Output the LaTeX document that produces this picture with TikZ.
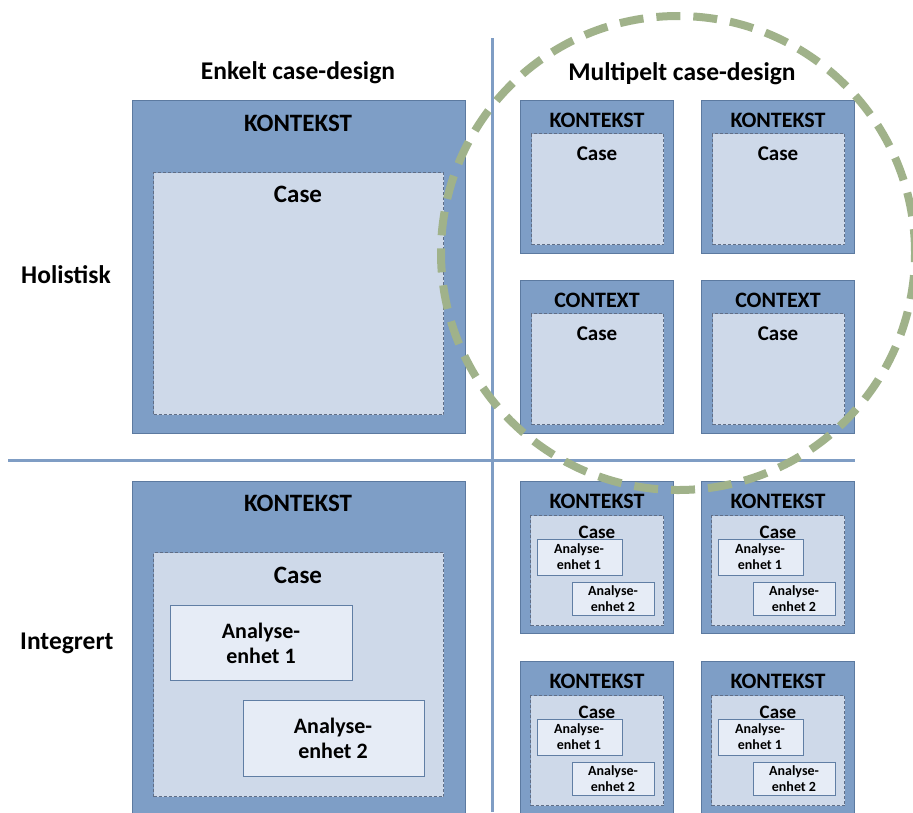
\documentclass[tikz,border=0pt]{standalone}
\usepackage{fontspec}
\setmainfont{Carlito}
\definecolor{ctxfill}{RGB}{126,158,198}
\definecolor{ctxline}{RGB}{92,122,160}
\definecolor{casefill}{RGB}{206,217,233}
\definecolor{caseline}{RGB}{96,110,134}
\definecolor{unitfill}{RGB}{230,236,246}
\definecolor{unitline}{RGB}{96,126,164}
\definecolor{gridline}{RGB}{127,157,196}
\definecolor{ringcol}{RGB}{160,178,138}
\begin{document}
\begin{tikzpicture}[x=1pt,y=-1pt,
  ctx/.style={draw=ctxline, fill=ctxfill, line width=1pt, inner sep=0pt, anchor=north west},
  casebox/.style={draw=caseline, fill=casefill, line width=1pt, dash pattern=on 3pt off 2pt, inner sep=0pt, anchor=north west},
  unit/.style={draw=unitline, fill=unitfill, line width=1pt, inner sep=0pt, anchor=north west},
  title/.style={font=\bfseries\fontsize{25.5}{30}\selectfont, inner sep=0pt},
  bighd/.style={font=\bfseries\fontsize{25}{30}\selectfont, inner sep=0pt},
  smallhd/.style={font=\bfseries\fontsize{22}{26}\selectfont, inner sep=0pt},
  bigunit/.style={font=\bfseries\fontsize{22}{25}\selectfont, align=center, inner sep=0pt},
  smallunit/.style={font=\bfseries\fontsize{14}{16}\selectfont, align=center, inner sep=0pt},
  smallcase/.style={font=\bfseries\fontsize{19}{22}\selectfont, inner sep=0pt},
  holcase/.style={font=\bfseries\fontsize{21}{24}\selectfont, inner sep=0pt},
]
\useasboundingbox (0,0) rectangle (913,812);
\clip (0,0) rectangle (913,812);

% dividing lines of the 2x2 grid
\coordinate (vtop) at (492,38);
\coordinate (vbot) at (492,812);
\coordinate (hl) at (8,460);
\coordinate (hr) at (855,460);
\draw[gridline, line width=3pt] (vtop) -- (vbot);
\draw[gridline, line width=3pt] (hl) -- (hr);

% column and row headings
\node[title] (colA) at (298,73) {Enkelt case-design};
\node[title] (colB) at (682,74) {Multipelt case-design};
\node[title, anchor=west] (rowA) at (21,275) {Holistisk};
\node[title, anchor=west] (rowB) at (20,643) {Integrert};

% single holistic case
\node[ctx, minimum width=333pt, minimum height=333pt] (k1) at (132,100) {};
\node[bighd] (k1t) at (298,123) {KONTEKST};
\node[casebox, minimum width=290pt, minimum height=242pt] (c1) at (153,172) {};
\node[bighd] (c1t) at (298,194) {Case};

% single embedded case
\node[ctx, minimum width=333pt, minimum height=345pt] (k2) at (132,481) {};
\node[bighd] (k2t) at (298,503) {KONTEKST};
\node[casebox, minimum width=290pt, minimum height=244pt] (c2) at (153,552) {};
\node[bighd] (c2t) at (298,575) {Case};
\node[unit, minimum width=182pt, minimum height=75pt] (u21) at (170,605) {};
\node[bigunit] (u21t) at (261,643) {Analyse-\\enhet 1};
\node[unit, minimum width=181pt, minimum height=76pt] (u22) at (243,700) {};
\node[bigunit] (u22t) at (333,738) {Analyse-\\enhet 2};

% multiple holistic cases
\foreach \x/\y/\lab/\n in {520/100/KONTEKST/a, 701/100/KONTEKST/b, 520/280/CONTEXT/c, 701/280/CONTEXT/d}{
  \node[ctx, minimum width=153pt, minimum height=153pt] (h\n) at (\x,\y) {};
  \node[smallhd] (h\n t) at (\x+77,\y+20) {\lab};
  \node[casebox, minimum width=132pt, minimum height=111pt] (hc\n) at (\x+11,\y+33) {};
  \node[holcase] (hc\n t) at (\x+77,\y+54) {Case};
}

% multiple embedded cases
\foreach \x/\y/\n in {520/481/a, 701/481/b, 520/661/c, 701/661/d}{
  \node[ctx, minimum width=153pt, minimum height=152pt] (e\n) at (\x,\y) {};
  \node[smallhd] (e\n t) at (\x+77,\y+20) {KONTEKST};
  \node[casebox, minimum width=133pt, minimum height=110pt] (ec\n) at (\x+10,\y+34) {};
  \node[smallcase] (ec\n t) at (\x+77,\y+51) {Case};
  \node[unit, minimum width=85pt, minimum height=36pt] (eu\n1) at (\x+17,\y+58) {};
  \node[smallunit] (eu\n1t) at (\x+59,\y+76) {Analyse-\\enhet 1};
  \node[unit, minimum width=82pt, minimum height=33pt] (eu\n2) at (\x+52,\y+101) {};
  \node[smallunit] (eu\n2t) at (\x+93,\y+118) {Analyse-\\enhet 2};
}

% ring around the multiple holistic designs
\node[draw=ringcol, line width=8pt, dash pattern=on 24pt off 13pt, circle, minimum size=474pt, inner sep=0pt] (ring) at (678,253) {};
\end{tikzpicture}
\end{document}
